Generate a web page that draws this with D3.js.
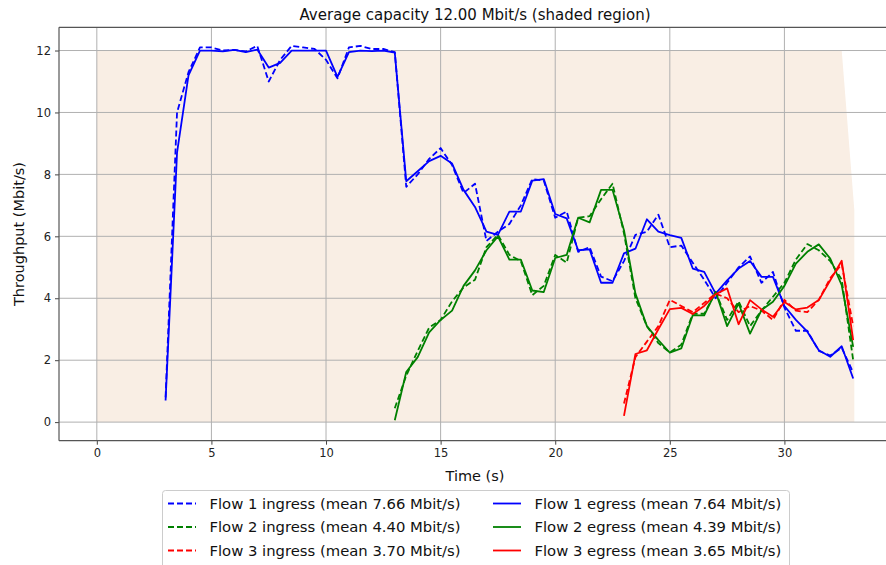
<!DOCTYPE html>
<html>
<head>
<meta charset="utf-8">
<script src="https://cdn.jsdelivr.net/npm/d3@7"></script>
<style>
  body { margin: 0; background: #fff; }
  svg { display: block; font-family: "DejaVu Sans", sans-serif; }
  .grid line { stroke: #b0b0b0; stroke-width: 1; }
  .tick text { fill: #222; }
</style>
</head>
<body>
<div id="viz"></div>
<script>
// sample times (s)
var flow1Time = [3, 3.5, 4, 4.5, 5, 5.5, 6, 6.5, 7, 7.5, 8, 8.5, 9, 9.5, 10, 10.5, 11, 11.5, 12, 12.5,
  13, 13.5, 14, 14.5, 15, 15.5, 16, 16.5, 17, 17.5, 18, 18.5, 19, 19.5, 20, 20.5, 21, 21.5, 22, 22.5,
  23, 23.5, 24, 24.5, 25, 25.5, 26, 26.5, 27, 27.5, 28, 28.5, 29, 29.5, 30, 30.5, 31, 31.5, 32, 32.5, 33];
var flow2Time = [13, 13.5, 14, 14.5, 15, 15.5, 16, 16.5, 17, 17.5, 18, 18.5, 19, 19.5, 20, 20.5, 21, 21.5, 22, 22.5,
  23, 23.5, 24, 24.5, 25, 25.5, 26, 26.5, 27, 27.5, 28, 28.5, 29, 29.5, 30, 30.5, 31, 31.5, 32, 32.5, 33];
var flow3Time = [23, 23.5, 24, 24.5, 25, 25.5, 26, 26.5, 27, 27.5, 28, 28.5, 29, 29.5, 30, 30.5, 31, 31.5, 32, 32.5, 33];

// throughput (Mbit/s)
var flow1Ingress = [0.8, 10.0, 11.3, 12.1, 12.1, 12.0, 12.02, 11.97, 12.15, 11.0, 11.7, 12.15, 12.1, 12.05, 11.7, 11.1, 12.1, 12.15, 12.05, 12.05,
  11.95, 7.6, 8.0, 8.5, 8.85, 8.3, 7.4, 7.7, 5.85, 6.15, 6.4, 7.0, 7.85, 7.8, 6.6, 6.8, 5.5, 5.65, 4.7, 4.55,
  5.2, 6.05, 6.15, 6.7, 5.65, 5.7, 5.15, 4.6, 4.0, 4.5, 5.0, 5.35, 4.5, 4.85, 3.7, 2.95, 2.95, 2.3, 2.15, 2.4, 1.6];
var flow1Egress = [0.7, 8.7, 11.2, 12.0, 12.0, 11.97, 12.02, 11.95, 12.03, 11.45, 11.6, 12.0, 12.0, 12.0, 12.0, 11.15, 11.95, 12.0, 11.98, 12.0,
  11.93, 7.78, 8.1, 8.43, 8.6, 8.35, 7.5, 6.95, 6.15, 6.05, 6.8, 6.8, 7.8, 7.85, 6.72, 6.58, 5.55, 5.58, 4.5, 4.5,
  5.45, 5.6, 6.55, 6.15, 6.04, 5.95, 4.96, 4.85, 4.15, 4.58, 4.96, 5.2, 4.69, 4.69, 3.75, 3.3, 2.92, 2.32, 2.11, 2.45, 1.41];
var flow2Ingress = [0.45, 1.5, 2.3, 3.05, 3.3, 3.9, 4.35, 4.6, 5.65, 6.05, 5.4, 5.2, 4.1, 4.4, 5.4, 5.15, 6.6, 6.65, 7.2, 7.7,
  6.1, 4.0, 3.1, 2.55, 2.25, 2.5, 3.5, 3.5, 4.2, 3.3, 3.9, 3.1, 3.6, 4.05, 4.5, 5.25, 5.75, 5.55, 5.2, 4.6, 2.0];
var flow2Egress = [0.06, 1.62, 2.1, 2.9, 3.3, 3.6, 4.4, 4.9, 5.55, 6.0, 5.25, 5.25, 4.25, 4.2, 5.3, 5.4, 6.6, 6.45, 7.5, 7.5,
  6.2, 4.15, 3.1, 2.65, 2.24, 2.38, 3.45, 3.45, 4.21, 3.1, 3.83, 2.86, 3.62, 3.89, 4.4, 5.12, 5.5, 5.74, 5.28, 4.42, 2.43];
var flow3Ingress = [0.6, 2.1, 2.6, 3.1, 3.95, 3.75, 3.55, 3.85, 4.15, 4.0, 3.55, 3.75, 3.6, 3.3, 3.95, 3.6, 3.55, 3.95, 4.65, 5.1, 3.1];
var flow3Egress = [0.2, 2.2, 2.32, 3.0, 3.65, 3.69, 3.49, 3.75, 4.13, 4.32, 3.16, 3.94, 3.64, 3.4, 3.88, 3.64, 3.7, 3.94, 4.58, 5.21, 2.65];

// link capacity trace (shaded)
var capacityTime = [0, 32.5, 33.05];
var capacityValue = [12, 12, 6.85];

var xTicks = [0, 5, 10, 15, 20, 25, 30];
var yTicks = [0, 2, 4, 6, 8, 10, 12];

var legendLabels = [
  "Flow 1 ingress (mean 7.66 Mbit/s)", "Flow 2 ingress (mean 4.40 Mbit/s)", "Flow 3 ingress (mean 3.70 Mbit/s)",
  "Flow 1 egress (mean 7.64 Mbit/s)", "Flow 2 egress (mean 4.39 Mbit/s)", "Flow 3 egress (mean 3.65 Mbit/s)"
];
var flowColors = ["#0000ff", "#008000", "#ff0000"];

var width = 886, height = 565;
var pLeft = 59, pRight = 891, pTop = 27.3, pBottom = 440.7;

var x = d3.scaleLinear().domain([-1.65, 34.65]).range([pLeft, pRight]);
var y = d3.scaleLinear().domain([-0.6, 12.75]).range([pBottom, pTop]);

var svg = d3.select("#viz").append("svg")
    .attr("width", width)
    .attr("height", height);

svg.append("defs").append("clipPath").attr("id", "plot")
  .append("rect")
    .attr("x", pLeft).attr("y", pTop)
    .attr("width", pRight - pLeft).attr("height", pBottom - pTop);

var plot = svg.append("g").attr("clip-path", "url(#plot)");

// shaded capacity
var cap = capacityTime.map(function(t, i) { return {t: t, v: capacityValue[i]}; });
plot.append("path")
    .datum(cap)
    .attr("fill", "#f9eee4")
    .attr("d", d3.area()
      .x(function(d) { return x(d.t); })
      .y0(y(0))
      .y1(function(d) { return y(d.v); }));

// grid
var grid = plot.append("g").attr("class", "grid");
grid.selectAll(".gx").data(xTicks).enter().append("line")
    .attr("x1", function(d) { return x(d); }).attr("x2", function(d) { return x(d); })
    .attr("y1", pTop).attr("y2", pBottom);
grid.selectAll(".gy").data(yTicks).enter().append("line")
    .attr("y1", function(d) { return y(d); }).attr("y2", function(d) { return y(d); })
    .attr("x1", pLeft).attr("x2", pRight);

var line = d3.line()
    .x(function(d) { return x(d.t); })
    .y(function(d) { return y(d.v); });

var series = [
  {time: flow1Time, vals: flow1Ingress, color: flowColors[0], dash: "6,3"},
  {time: flow2Time, vals: flow2Ingress, color: flowColors[1], dash: "6,3"},
  {time: flow3Time, vals: flow3Ingress, color: flowColors[2], dash: "6,3"},
  {time: flow1Time, vals: flow1Egress, color: flowColors[0], dash: null},
  {time: flow2Time, vals: flow2Egress, color: flowColors[1], dash: null},
  {time: flow3Time, vals: flow3Egress, color: flowColors[2], dash: null}
];

series.forEach(function(s) {
  var pts = s.time.map(function(t, i) { return {t: t, v: s.vals[i]}; });
  plot.append("path")
      .datum(pts)
      .attr("fill", "none")
      .attr("stroke", s.color)
      .attr("stroke-width", 1.8)
      .attr("stroke-dasharray", s.dash)
      .attr("stroke-linejoin", "round")
      .attr("d", line);
});

// axes
var xAxis = svg.append("g")
    .attr("transform", "translate(0," + pBottom + ")")
    .call(d3.axisBottom(x).tickValues(xTicks).tickSize(4).tickPadding(4));
var yAxis = svg.append("g")
    .attr("transform", "translate(" + pLeft + ",0)")
    .call(d3.axisLeft(y).tickValues(yTicks).tickSize(4).tickPadding(4));
[xAxis, yAxis].forEach(function(a) {
  a.selectAll("text").style("font-size", "11.5px").style("font-family", "DejaVu Sans");
  a.selectAll(".tick line").attr("stroke", "#444");
  a.select(".domain").remove();
});

// spines (left, bottom, top)
svg.append("line").attr("x1", pLeft).attr("x2", pLeft).attr("y1", pTop).attr("y2", pBottom)
    .attr("stroke", "#555").attr("stroke-width", 1.2);
svg.append("line").attr("x1", pLeft).attr("x2", pRight).attr("y1", pBottom).attr("y2", pBottom)
    .attr("stroke", "#555").attr("stroke-width", 1.2);
svg.append("line").attr("x1", pLeft).attr("x2", pRight).attr("y1", pTop).attr("y2", pTop)
    .attr("stroke", "#555").attr("stroke-width", 1.2);

// title and labels
svg.append("text")
    .attr("x", 475).attr("y", 20)
    .attr("text-anchor", "middle")
    .style("font-size", "15px").style("fill", "#111")
    .text("Average capacity 12.00 Mbit/s (shaded region)");
svg.append("text")
    .attr("x", 475).attr("y", 481)
    .attr("text-anchor", "middle")
    .style("font-size", "14.5px").style("fill", "#111")
    .text("Time (s)");
svg.append("text")
    .attr("transform", "translate(24," + ((pTop + pBottom) / 2) + ")rotate(-90)")
    .attr("text-anchor", "middle")
    .style("font-size", "14.5px").style("fill", "#111")
    .text("Throughput (Mbit/s)");

// legend
var legend = svg.append("g");
legend.append("rect")
    .attr("x", 162.5).attr("y", 490.5)
    .attr("width", 627).attr("height", 80)
    .attr("rx", 3)
    .attr("fill", "#fff").attr("stroke", "#cccccc");

var item = legend.selectAll(".item")
    .data(series)
  .enter().append("g")
    .attr("transform", function(d, i) {
      var col = Math.floor(i / 3), row = i % 3;
      return "translate(" + (col === 0 ? 168 : 493) + "," + (503.5 + row * 23.5) + ")";
    });
item.append("line")
    .attr("x1", 0).attr("x2", 28)
    .attr("stroke", function(d) { return d.color; })
    .attr("stroke-width", 1.8)
    .attr("stroke-dasharray", function(d) { return d.dash; });
item.append("text")
    .attr("x", 41.5).attr("dy", "0.36em")
    .style("font-size", "14.8px").style("fill", "#111")
    .text(function(d, i) { return legendLabels[i]; });
</script>
</body>
</html>
